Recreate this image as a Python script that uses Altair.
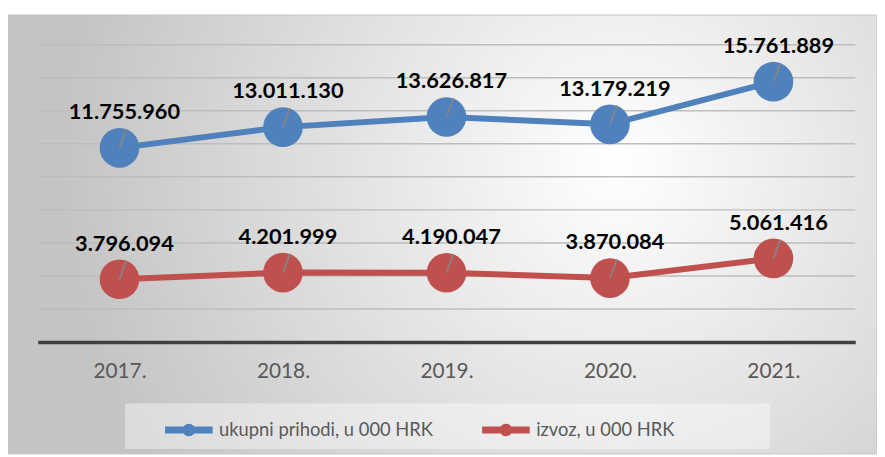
import altair as alt
import pandas as pd

years = ["2017.", "2018.", "2019.", "2020.", "2021."]
series_names = ["ukupni prihodi, u 000 HRK", "izvoz, u 000 HRK"]
prihodi = [11755960, 13011130, 13626817, 13179219, 15761889]
izvoz = [3796094, 4201999, 4190047, 3870084, 5061416]
colors = ["#4f81bd", "#c0504d"]
grid_values = [2e6, 4e6, 6e6, 8e6, 10e6, 12e6, 14e6, 16e6, 18e6]

rows = []
for name, vals in zip(series_names, [prihodi, izvoz]):
    for y, v in zip(years, vals):
        rows.append({"year": y, "series": name, "value": v,
                     "label": f"{v:,}".replace(",", ".")})
df = pd.DataFrame(rows)
grid_df = pd.DataFrame({"value": grid_values})

FONT = "Lato"
W, H = 825, 300

x_enc = alt.X("year:N", sort=years, title=None,
              scale=alt.Scale(type="point", padding=0.5),
              axis=alt.Axis(labelFontSize=21, labelColor="#595959", labelFont=FONT,
                            labelPadding=19, ticks=False, tickSize=0,
                            domainColor="#404040", domainWidth=3.5, grid=False,
                            labelAngle=0, zindex=1))
y_scale = alt.Scale(domain=[0, 18e6], nice=False)
y_enc = alt.Y("value:Q", title=None, scale=y_scale, axis=None)
color_scale = alt.Scale(domain=series_names, range=colors)

legend_path = ("M-1,0L1,0M-0.12,0A0.12,0.12,0,1,1,0.12,0A0.12,0.12,0,1,1,-0.12,0Z")

bg_df = pd.DataFrame({"a": [0]})
background = alt.Chart(bg_df).mark_rect(
    color=alt.RadialGradient(
        gradient="radial",
        stops=[alt.GradientStop(color="#ffffff", offset=0),
               alt.GradientStop(color="#c4c4c4", offset=1)],
        x1=0.7, y1=0.42, x2=0.7, y2=0.42, r1=0, r2=0.64),
    stroke="#c4c4c4", strokeWidth=1
).encode(x=alt.value(-30), x2=alt.value(847), y=alt.value(-30), y2=alt.value(413))

legend_box = alt.Chart(bg_df).mark_rect(
    color="#ffffff", opacity=0.4
).encode(x=alt.value(88), x2=alt.value(739), y=alt.value(362), y2=alt.value(408))

gridlines = alt.Chart(grid_df).mark_rule(color="#bdbdbd", strokeWidth=1.5).encode(
    y=alt.Y("value:Q", scale=y_scale, axis=None),
    x=alt.value(0), x2=alt.value(W)
)

base = alt.Chart(df).encode(x=x_enc, y=y_enc)

lines = base.mark_line(strokeWidth=6).encode(
    color=alt.Color("series:N", scale=color_scale, sort=series_names,
                    legend=alt.Legend(orient="none", legendX=125, legendY=361,
                                      direction="horizontal", title=None,
                                      symbolType=legend_path, symbolSize=2304,
                                      symbolStrokeWidth=7, labelFontSize=18.5,
                                      labelFont=FONT, labelColor="#595959",
                                      labelLimit=500,
                                      labelOffset=3, columnPadding=35, padding=0))
)
points = base.mark_point(filled=True, size=1600, opacity=1).encode(
    color=alt.Color("series:N", scale=color_scale, legend=None)
)
leaders = base.mark_rule(color="#858585", strokeWidth=1.8, x2Offset=7, y2Offset=-19).encode(
    x2=alt.X2("year:N"), y2=alt.Y2("value:Q")
)
labels = base.mark_text(dx=5, dy=-36, fontSize=22, fontWeight="bold", font=FONT,
                        color="#000000").encode(text="label:N")

chart = alt.layer(background, legend_box, gridlines, lines, points, leaders, labels).properties(
    width=W, height=H,
    padding={"left": 30, "top": 35, "right": 22, "bottom": 113},
    autosize=alt.AutoSizeParams(type="none"),
    background="#ffffff"
).configure_view(stroke=None)

chart.save("out.html", embed_options={"renderer": "svg", "actions": False})
